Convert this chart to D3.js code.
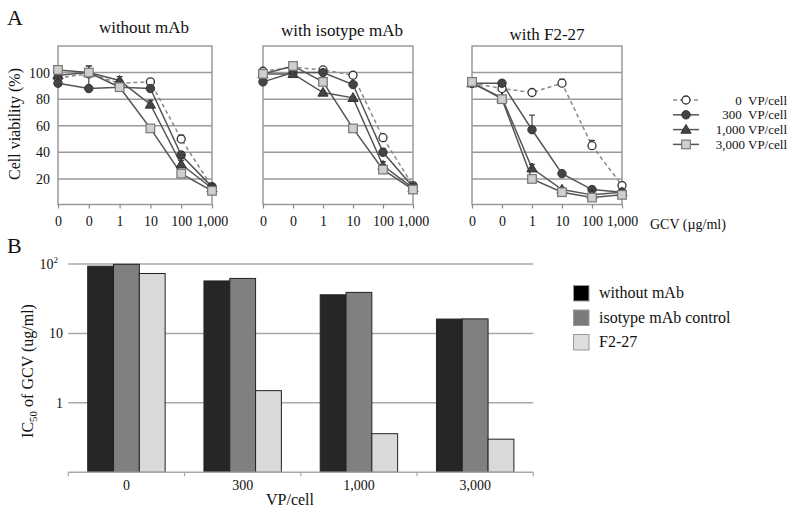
<!DOCTYPE html>
<html>
<head>
<meta charset="utf-8">
<script src="https://cdn.jsdelivr.net/npm/d3@7/dist/d3.min.js"></script>
<style>
  body { margin: 0; background: #fff; }
  text { font-family: "Liberation Serif", "Times New Roman", serif; fill: #111; }
</style>
</head>
<body>
<div id="chart"></div>
<script>
// ---------- data, panel A ----------
var panelTitles   = ["without mAb", "with isotype mAb", "with F2-27"];
var gcvLabels     = ["0", "0", "1", "10", "100", "1,000"];
var viabTicks     = [20, 40, 60, 80, 100];
var seriesNames   = ["0  VP/cell", "300  VP/cell", "1,000 VP/cell", "3,000 VP/cell"];

// one array per series, one sub-array per panel (without / isotype / F2-27)
var vp0    = [[96, 99, 92, 93, 50, 14], [101, 104, 102, 98, 51, 15], [92, 88, 85, 92, 45, 15]];
var vp300  = [[92, 88, 89, 88, 38, 14], [93, 100, 100, 91, 40, 14], [92, 92, 57, 24, 12, 10]];
var vp1000 = [[98, 100, 94, 76, 31, 13], [99, 99, 85, 81, 30, 13], [92, 81, 28, 12, 8, 10]];
var vp3000 = [[102, 100, 89, 58, 24, 11], [99, 105, 93, 58, 27, 12], [93, 80, 20, 10, 6, 8]];

var err0    = [[2, 2, 1, 1, 3, 1], [2, 1, 1, 1, 2, 1], [3, 1, 1, 3, 4, 1]];
var err300  = [[2, 12, 1, 1, 2, 1], [1, 1, 1, 1, 3, 1], [1, 1, 11, 1, 1, 1]];
var err1000 = [[2, 5, 3, 3, 3, 1], [1, 1, 1, 1, 3, 1], [1, 1, 3, 1, 1, 1]];
var err3000 = [[2, 5, 1, 1, 1, 1], [1, 1, 1, 1, 1, 1], [1, 2, 1, 1, 1, 1]];

// ---------- data, panel B ----------
var vpCats     = ["0", "300", "1,000", "3,000"];
var barSeries  = ["without mAb", "isotype mAb control", "F2-27"];
var icWithout  = [93, 57, 36, 16.1];
var icIsotype  = [99, 62, 39, 16.2];
var icF227     = [73, 1.5, 0.36, 0.30];
var icTicks    = [1, 10, 100];

// ---------- layout ----------
var chart_width  = 788;
var chart_height = 511;

var svg = d3.select("#chart")
    .append("svg")
    .attr("width", chart_width)
    .attr("height", chart_height);

svg.append("rect").attr("width", chart_width).attr("height", chart_height).attr("fill", "#fff");

// panel A
var panelLeft   = [58, 263, 472];
var panelRight  = [212, 413, 622];
var titleX      = [144, 342, 547];
var titleY      = [33, 36, 40];
var plotTop     = 46;
var plotBottom  = 204.5;

var yA = d3.scaleLinear().domain([0, 120]).range([205.5, 46]);

var seriesData = [vp0, vp300, vp1000, vp3000];
var seriesErr  = [err0, err300, err1000, err3000];
var lineColor  = ["#8a8a8a", "#555", "#555", "#555"];
var dashes     = ["4,3", null, null, null];

function drawMarker(g, type, x, y) {
  if (type == 0) {
    g.append("circle").attr("cx", x).attr("cy", y).attr("r", 4)
      .attr("fill", "#fff").attr("stroke", "#333").attr("stroke-width", 1.3);
  } else if (type == 1) {
    g.append("circle").attr("cx", x).attr("cy", y).attr("r", 4.2)
      .attr("fill", "#444").attr("stroke", "#333").attr("stroke-width", 1);
  } else if (type == 2) {
    g.append("path").attr("d", d3.symbol().type(d3.symbolTriangle).size(45)())
      .attr("transform", "translate(" + x + "," + (y + 0.7) + ")")
      .attr("fill", "#444").attr("stroke", "#333").attr("stroke-width", 1);
  } else {
    g.append("rect").attr("x", x - 4.3).attr("y", y - 4.3).attr("width", 8.6).attr("height", 8.6)
      .attr("fill", "#cfcfcf").attr("stroke", "#777").attr("stroke-width", 1.2);
  }
}

panelTitles.forEach(function(title, p) {
  var g = svg.append("g");
  var xA = d3.scalePoint().domain(d3.range(gcvLabels.length)).range([panelLeft[p], panelRight[p]]);

  // frame + gridlines
  g.append("rect").attr("x", panelLeft[p]).attr("y", plotTop)
    .attr("width", panelRight[p] - panelLeft[p]).attr("height", plotBottom - plotTop)
    .attr("fill", "none").attr("stroke", "#9a9a9a").attr("stroke-width", 1.5);
  g.selectAll(".grid").data(viabTicks).enter().append("line")
    .attr("x1", panelLeft[p]).attr("x2", panelRight[p])
    .attr("y1", function(d){ return yA(d); }).attr("y2", function(d){ return yA(d); })
    .attr("stroke", "#9a9a9a").attr("stroke-width", 1.5);

  // x axis ticks and labels
  var xAxis = d3.axisBottom(xA).tickSize(4).tickFormat(function(i){ return gcvLabels[i]; });
  var ax = g.append("g").attr("transform", "translate(0," + plotBottom + ")").call(xAxis);
  ax.select(".domain").remove();
  ax.selectAll("line").attr("stroke", "#888").attr("stroke-width", 1.2);
  ax.selectAll("text").attr("y", 12).attr("font-size", 14)
    .attr("font-family", "Liberation Serif").attr("fill", "#111");

  // y labels only on the first panel
  if (p == 0) {
    g.selectAll(".ylab").data(viabTicks).enter().append("text")
      .attr("x", 50).attr("y", function(d){ return yA(d) + 5; })
      .attr("text-anchor", "end").attr("font-size", 14).text(function(d){ return d; });
  }

  g.append("text").attr("x", titleX[p])
    .attr("y", titleY[p]).attr("text-anchor", "middle").attr("font-size", 17).text(title);

  var line = d3.line().x(function(d, i){ return xA(i); }).y(function(d){ return yA(d); });

  seriesData.forEach(function(s, k) {
    g.append("path").datum(s[p]).attr("d", line).attr("fill", "none")
      .attr("stroke", lineColor[k]).attr("stroke-width", 1.5)
      .attr("stroke-dasharray", dashes[k]);
  });
  seriesData.forEach(function(s, k) {
    s[p].forEach(function(v, i) {
      var e = seriesErr[k][p][i];
      var x = xA(i);
      g.append("line").attr("x1", x).attr("x2", x).attr("y1", yA(v)).attr("y2", yA(v + e))
        .attr("stroke", "#444").attr("stroke-width", 1.2);
      g.append("line").attr("x1", x - 3).attr("x2", x + 3).attr("y1", yA(v + e)).attr("y2", yA(v + e))
        .attr("stroke", "#444").attr("stroke-width", 1.2);
    });
  });
  seriesData.forEach(function(s, k) {
    s[p].forEach(function(v, i) { drawMarker(g, k, xA(i), yA(v)); });
  });
});

svg.append("text").attr("x", 7).attr("y", 25).attr("font-size", 22).text("A");
svg.append("text").attr("transform", "translate(20,124) rotate(-90)")
  .attr("text-anchor", "middle").attr("font-size", 16).text("Cell viability (%)");
svg.append("text").attr("x", 650).attr("y", 229).attr("font-size", 14).text("GCV (\u00b5g/ml)");

// legend A
var legA = svg.append("g");
seriesNames.forEach(function(name, k) {
  var y = 100 + k * 14.8;
  legA.append("line").attr("x1", 673).attr("x2", 699).attr("y1", y).attr("y2", y)
    .attr("stroke", lineColor[k]).attr("stroke-width", 1.5).attr("stroke-dasharray", dashes[k]);
  drawMarker(legA, k, 686, y);
  legA.append("text").attr("x", 787).attr("y", y + 4.5).attr("text-anchor", "end")
    .attr("font-size", 13).style("white-space", "pre").text(name);
});

// ---------- panel B ----------
var bLeft = 68.3, bRight = 533.3;
var yB = d3.scaleLog().domain([0.1, 100]).range([472.3, 264]);
var xB = d3.scaleBand().domain(vpCats).range([bLeft, bRight]).paddingInner(0.334).paddingOuter(0.167);
var xBin = d3.scaleBand().domain(barSeries).range([0, xB.bandwidth()]);
var barFill = ["#262626", "#808080", "#d9d9d9"];
var barVals = [icWithout, icIsotype, icF227];

var gB = svg.append("g");
gB.selectAll(".gridB").data(icTicks).enter().append("line")
  .attr("x1", bLeft).attr("x2", bRight)
  .attr("y1", function(d){ return yB(d); }).attr("y2", function(d){ return yB(d); })
  .attr("stroke", "#a8a8a8").attr("stroke-width", 1.5);

barVals.forEach(function(vals, s) {
  gB.selectAll(".bar" + s).data(vals).enter().append("rect")
    .attr("x", function(d, i){ return xB(vpCats[i]) + xBin(barSeries[s]); })
    .attr("y", function(d){ return yB(d); })
    .attr("width", xBin.bandwidth())
    .attr("height", function(d){ return yB(0.1) - yB(d); })
    .attr("fill", barFill[s]).attr("stroke", "#222").attr("stroke-width", 1);
});

// x axis B
gB.append("line").attr("x1", bLeft).attr("x2", bRight).attr("y1", yB(0.1)).attr("y2", yB(0.1))
  .attr("stroke", "#a8a8a8").attr("stroke-width", 1.5);
var edges = vpCats.map(function(c){ return xB(c) - xB.step() * 0.167; }).concat([bRight]);
gB.selectAll(".tickB").data(edges).enter().append("line")
  .attr("x1", function(d){ return d; }).attr("x2", function(d){ return d; })
  .attr("y1", yB(0.1)).attr("y2", yB(0.1) + 4).attr("stroke", "#a8a8a8").attr("stroke-width", 1.2);
gB.selectAll(".xlabB").data(vpCats).enter().append("text")
  .attr("x", function(d){ return xB(d) + xB.bandwidth() / 2; }).attr("y", 490)
  .attr("text-anchor", "middle").attr("font-size", 14).text(function(d){ return d; });

// y labels B
icTicks.forEach(function(t) {
  var lab = gB.append("text").attr("x", t == 100 ? 58 : 63).attr("y", yB(t) + 5)
    .attr("text-anchor", "end").attr("font-size", 14);
  if (t == 100) {
    lab.text("10");
    lab.append("tspan").attr("dy", -6).attr("font-size", 9).text("2");
  } else {
    lab.text(t);
  }
});

svg.append("text").attr("x", 7).attr("y", 253).attr("font-size", 22).text("B");
var yLabB = svg.append("text").attr("transform", "translate(33,371) rotate(-90)")
  .attr("text-anchor", "middle").attr("font-size", 16);
yLabB.append("tspan").text("IC");
yLabB.append("tspan").attr("dy", 4).attr("font-size", 11).text("50");
yLabB.append("tspan").attr("dy", -4).text(" of GCV (ug/ml)");
svg.append("text").attr("x", 290).attr("y", 505).attr("text-anchor", "middle")
  .attr("font-size", 16).text("VP/cell");

// legend B
var legB = svg.append("g");
var legFill = ["#000", "#7a7a7a", "#dedede"];
barSeries.forEach(function(name, k) {
  var y = 293 + k * 24.5;
  legB.append("rect").attr("x", 573.5).attr("y", y - 7.5).attr("width", 15.5).attr("height", 15.5)
    .attr("fill", legFill[k]).attr("stroke", "#999").attr("stroke-width", 1);
  legB.append("text").attr("x", 599).attr("y", y + 5).attr("font-size", 16).text(name);
});
</script>
</body>
</html>
